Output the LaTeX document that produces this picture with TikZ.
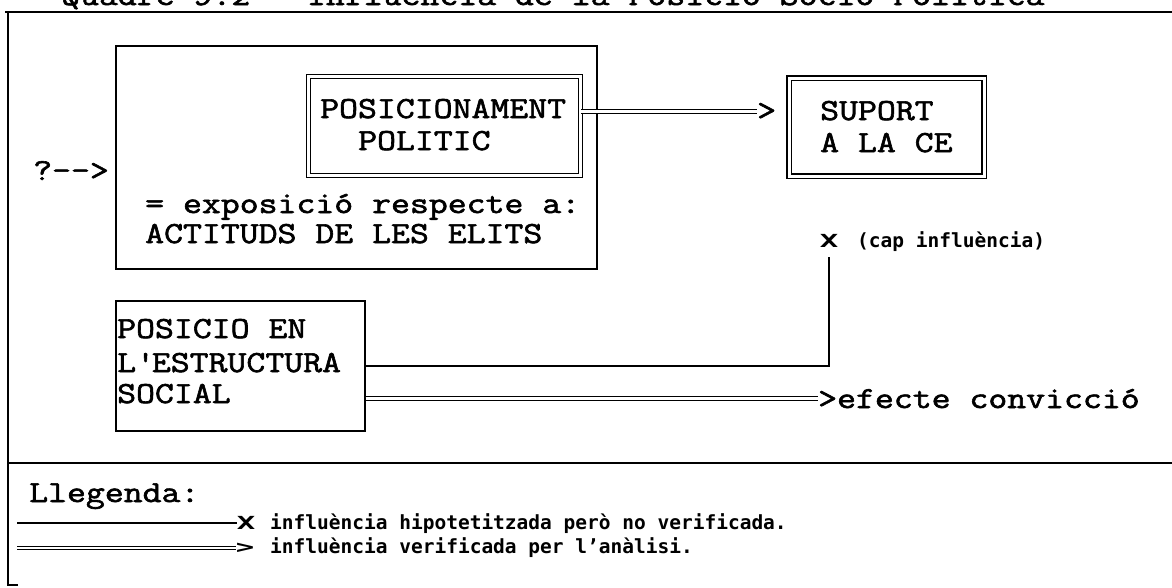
\documentclass[tikz,border=0pt]{standalone}
\usepackage{fontspec}
\usepackage{graphicx}
\setmainfont{Latin Modern Mono}[FakeStretch=1.2,FakeBold=2]
\newfontfamily\dotfont{DejaVu Sans Mono}
\newcommand\widesym[1]{\scalebox{1.7}[1]{#1}}
\begin{document}
\begin{tikzpicture}[x=1pt,y=-1pt,
  txt/.style={anchor=base west,inner sep=0pt,font=\fontsize{30.6}{32}\selectfont},
  small/.style={anchor=base west,inner sep=0pt,font=\dotfont\bfseries\fontsize{19.5}{20}\selectfont},
  xmark/.style={anchor=base,inner sep=0pt,font=\dotfont\bfseries\fontsize{18}{18}\selectfont},
  box/.style={draw,line width=1.6pt,inner sep=0pt,anchor=north west},
  dbox/.style={box,double,line width=1.3pt,double distance=3pt},
  dline/.style={double,line width=1.2pt,double distance=2.5pt},
  sline/.style={line width=1.6pt}]
\useasboundingbox (0,0) rectangle (1172,587);
% marc
\draw[line width=2pt] (5,12) -- (1172,12);
\draw[line width=2pt] (18,585) -- (8,585) -- (8,12);
\draw[line width=2pt] (8,463) -- (1172,463);
\node[txt] (titol) at (61,5) {Quadre 9.2 - Influència de la Posició Socio-Política};
% caixes
\node[box,minimum width=481pt,minimum height=223pt] (expo) at (115,45) {};
\node[dbox,minimum width=272pt,minimum height=99pt] (posic) at (308,76) {};
\node[txt] (posic1) at (320,118) {POSICIONAMENT};
\node[txt] (posic2) at (358,150) {POLITIC};
\node[dbox,minimum width=195pt,minimum height=98pt] (suport) at (788.5,77.5) {};
\node[txt] (suport1) at (820,120) {SUPORT};
\node[txt] (suport2) at (820,152) {A LA CE};
\node[txt] (tipa) at (757,120) {>};
\draw[dline] (posic.east |- tipa.west) -- (tipa.west);
\node[txt] (interrog) at (33,180) {?-{}->};
\node[txt] (expo1) at (145,213) {= exposició respecte a:};
\node[txt] (expo2) at (145,243) {ACTITUDS DE LES ELITS};
\node[box,minimum width=249pt,minimum height=130pt] (estr) at (115,300) {};
\node[txt] (estr1) at (117,338) {POSICIO EN};
\node[txt] (estr2) at (117,372) {L\textquotesingle ESTRUCTURA};
\node[txt] (estr3) at (117,403) {SOCIAL};
% sense influencia
\node[xmark] (creu) at (829,247) {\widesym{X}};
\node[small] (cap) at (857,247) {(cap influència)};
\draw[sline,shorten >=10pt] (estr.east) -| (creu.south);
\node[txt] (efecte) at (818,408) {>efecte convicció};
\draw[dline] (estr.east |- efecte.west) -- (efecte.west);
% llegenda
\node[txt] (lleg) at (29,502) {Llegenda:};
\coordinate (l1) at (17,523);
\node[xmark] (l1x) at (246,529) {\widesym{X}};
\node[small] (l1t) at (270,529) {influència hipotetitzada però no verificada.};
\draw[sline] (l1) -- (l1x.west |- l1);
\coordinate (l2) at (17,548);
\node[xmark] (l2x) at (245,553) {\widesym{>}};
\node[small] (l2t) at (270,553) {influència verificada per l’anàlisi.};
\draw[dline] (l2) -- (l2x.west |- l2);
\end{tikzpicture}
\end{document}
